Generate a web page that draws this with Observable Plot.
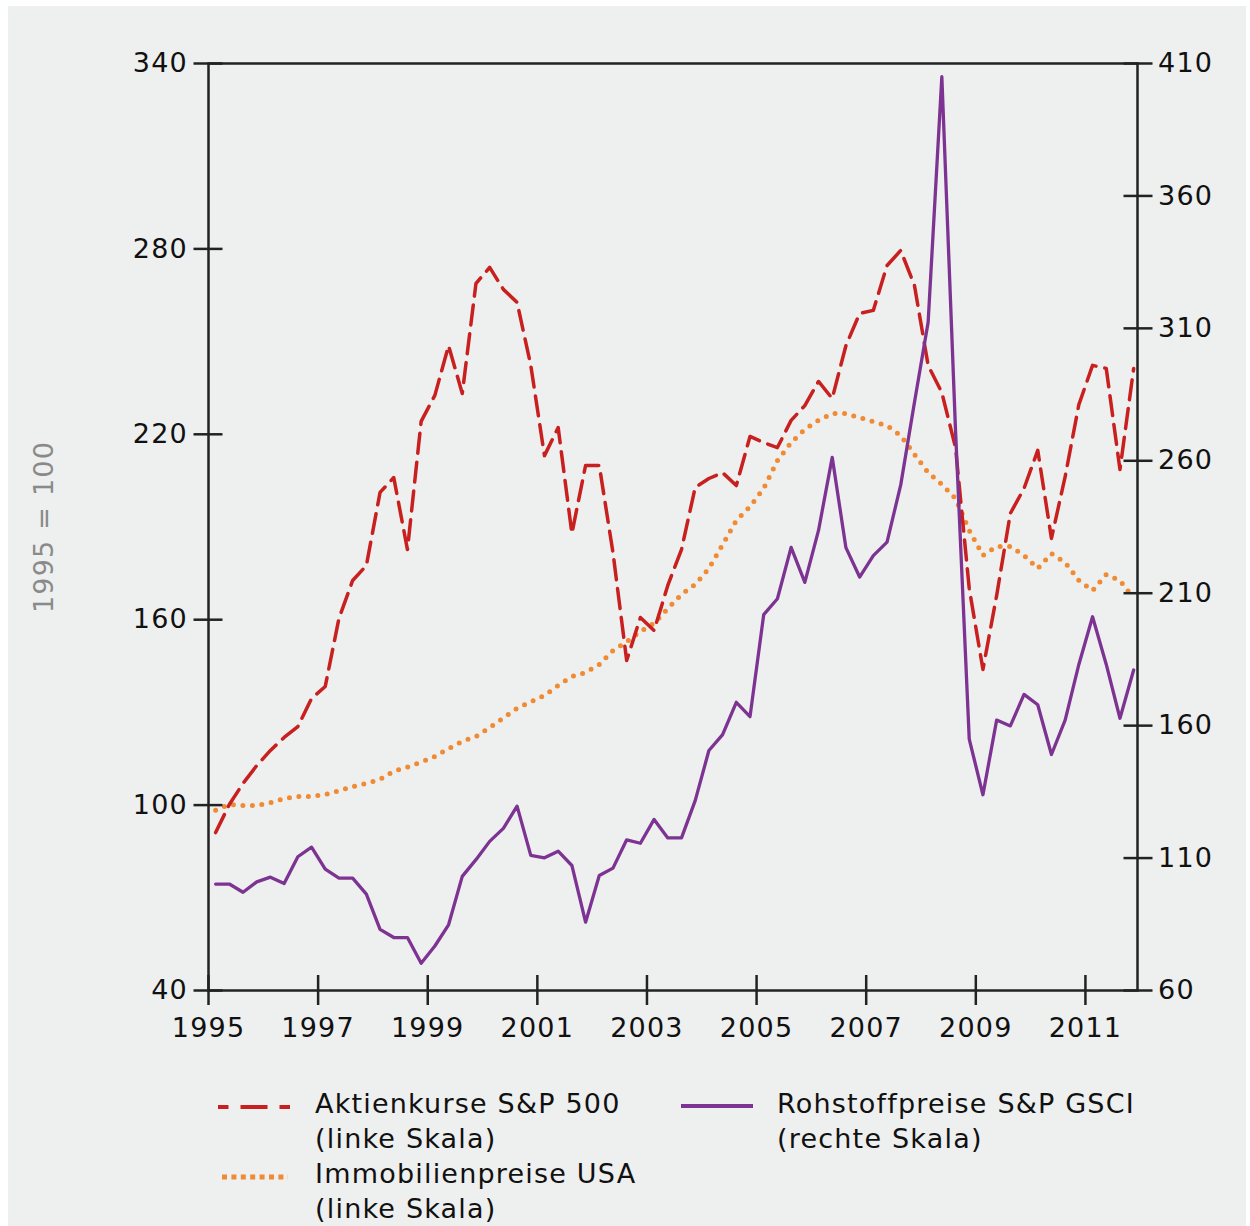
<!DOCTYPE html>
<html><head><meta charset="utf-8">
<script src="https://cdn.jsdelivr.net/npm/d3@7"></script>
<script src="https://cdn.jsdelivr.net/npm/@observablehq/plot@0.6"></script>
<style>
body{margin:0;background:#fff;width:1250px;height:1226px;position:relative;overflow:hidden;font-family:"DejaVu Sans",Verdana,sans-serif;}
#panel{position:absolute;left:8px;top:6px;width:1238px;height:1220px;background:#eeefef;}
#chart{position:absolute;left:0;top:0;}
.leg{position:absolute;font-size:27px;line-height:35px;letter-spacing:1.2px;color:#111;white-space:nowrap;}
#sw{position:absolute;left:0;top:0;}
</style></head><body>
<div id="panel"></div>
<div id="chart"></div>
<div class="leg" style="left:315px;top:1086px">Aktienkurse S&amp;P 500<br>(linke Skala)<br>Immobilienpreise USA<br>(linke Skala)</div>
<div class="leg" style="left:777px;top:1086px">Rohstoffpreise S&amp;P GSCI<br>(rechte Skala)</div>
<svg id="sw" width="1250" height="1226">
  <line x1="218" x2="290" y1="1107" y2="1107" stroke="#c8201f" stroke-width="4" stroke-dasharray="27 12" stroke-dashoffset="16.5"/>
  <line x1="222" x2="288" y1="1177" y2="1177" stroke="#f08a33" stroke-width="5" stroke-dasharray="5 4.4"/>
  <line x1="681" x2="753" y1="1106" y2="1106" stroke="#7d3391" stroke-width="4"/>
</svg>
<script>
const quarters = [
"1995-Q1","1995-Q2","1995-Q3","1995-Q4","1996-Q1","1996-Q2","1996-Q3","1996-Q4",
"1997-Q1","1997-Q2","1997-Q3","1997-Q4","1998-Q1","1998-Q2","1998-Q3","1998-Q4",
"1999-Q1","1999-Q2","1999-Q3","1999-Q4","2000-Q1","2000-Q2","2000-Q3","2000-Q4",
"2001-Q1","2001-Q2","2001-Q3","2001-Q4","2002-Q1","2002-Q2","2002-Q3","2002-Q4",
"2003-Q1","2003-Q2","2003-Q3","2003-Q4","2004-Q1","2004-Q2","2004-Q3","2004-Q4",
"2005-Q1","2005-Q2","2005-Q3","2005-Q4","2006-Q1","2006-Q2","2006-Q3","2006-Q4",
"2007-Q1","2007-Q2","2007-Q3","2007-Q4","2008-Q1","2008-Q2","2008-Q3","2008-Q4",
"2009-Q1","2009-Q2","2009-Q3","2009-Q4","2010-Q1","2010-Q2","2010-Q3","2010-Q4",
"2011-Q1","2011-Q2","2011-Q3","2011-Q4"];

// Aktienkurse S&P 500 (linke Skala)
const sp500 = [91.1,100.2,107,112.8,117.7,121.9,125.4,134.5,138.4,160.4,
172.7,177.5,201.2,206,182.7,224.2,232.6,248.7,233.2,268.8,
274,266.9,262.7,242.3,213.1,222.2,187.9,209.9,209.9,181.7,
146.8,160.7,156.5,171.1,182.7,202.8,205.7,207.6,203.4,219.3,
217.3,215.7,224.5,229.3,237.1,231.6,248.7,259.1,260.1,274.6,
279.5,268.2,242.3,233.5,215.7,170.1,143.9,167.8,194.4,202.5,
214.8,186.3,206.3,229.6,242.3,241.3,208.6,241.3];

// Immobilienpreise USA (linke Skala)
const housing = [98.3,100.2,99.9,99.9,100.8,102.1,102.8,102.8,103.4,104.6,
106,107,108.3,111,112.3,113.9,115.7,118.3,120.6,122.2,
125.1,128.2,131.3,133.4,135.5,138.7,141.6,142.9,145.5,150,
152.9,156.2,158.8,163.6,168.2,171.4,176.6,184.3,192.1,196.6,
202.5,211.5,217.3,221.6,224.5,226.7,226.7,225.4,224.1,222.8,
219.6,213.5,207.6,203.8,199.2,188.9,180.8,183.7,183.7,180.8,
176.6,181.4,178.5,172.7,169.4,174.6,172.7,166.9];

// Rohstoffpreise S&P GSCI (rechte Skala)
const gsci = [100.2,100.2,97.1,101,102.8,100.4,110.5,114.1,105.8,102.4,
102.4,96.4,83.1,80,80,70.3,76.8,84.8,103.1,109.4,
116.3,121.2,129.6,111,110.1,112.6,107.2,85.8,103.4,106.2,
116.9,115.6,124.6,117.6,117.6,131.7,150.6,156.6,168.8,163.4,
201.9,207.9,227.3,214.1,233.7,261.3,227.2,216.1,224.2,229.3,
250.9,282,312.3,405,271.4,154.9,133.9,162.1,159.9,171.8,
167.9,149.1,162.1,183.1,201.1,183.1,162.8,181];

const xTicks = [1995,1997,1999,2001,2003,2005,2007,2009,2011];
const leftTicks = [40,100,160,220,280,340];
const rightTicks = [60,110,160,210,260,310,360,410];

// right scale (60–410) mapped onto left scale (40–340)
const toLeft = v => 40 + (v - 60) * 300 / 350;
const fromLeft = d => Math.round(60 + (d - 40) * 350 / 300);

const qTime = q => +q.slice(0,4) + (+q.slice(-1) - 1) * 0.25 + 0.13;
const rows = quarters.map((q, i) => ({t: qTime(q), sp: sp500[i], house: housing[i], gsci: toLeft(gsci[i])}));

const ink = "#222";
const chart = Plot.plot({
  width: 1250, height: 1040,
  marginLeft: 208, marginRight: 113, marginTop: 63, marginBottom: 50,
  style: {background: "transparent", fontFamily: "DejaVu Sans, Verdana, sans-serif", fontSize: "27px", letterSpacing: "1.2px", color: "#111", overflow: "visible"},
  x: {domain: [1995, 2011.95]},
  y: {domain: [40, 340]},
  marks: [
    Plot.line(rows, {x: "t", y: "house", stroke: "#f08a33", strokeWidth: 5, strokeDasharray: "0,9.5", strokeLinecap: "round"}),
    Plot.line(rows, {x: "t", y: "sp", stroke: "#c8201f", strokeWidth: 3.5, strokeDasharray: "20,9"}),
    Plot.line(rows, {x: "t", y: "gsci", stroke: "#7d3391", strokeWidth: 3.3}),
    Plot.frame({stroke: ink, strokeWidth: 2.5}),
    Plot.axisX(xTicks, {anchor: "bottom", tickSize: 30, dy: -15, tickPadding: 12, tickFormat: d => String(d), stroke: ink, strokeWidth: 2.5, label: null}),
    Plot.axisY(leftTicks, {anchor: "left", tickSize: 29, dx: 14.5, tickPadding: 6, stroke: ink, strokeWidth: 2.5, label: null}),
    Plot.axisY(rightTicks.map(toLeft), {anchor: "right", tickSize: 29, dx: -14.5, tickPadding: 6, tickFormat: fromLeft, stroke: ink, strokeWidth: 2.5, label: null}),
    Plot.text(["1995 = 100"], {frameAnchor: "left", dx: -164, rotate: -90, textAnchor: "middle", fill: "#8a8a8a"})
  ]
});
document.getElementById("chart").appendChild(chart);
</script>
</body></html>
